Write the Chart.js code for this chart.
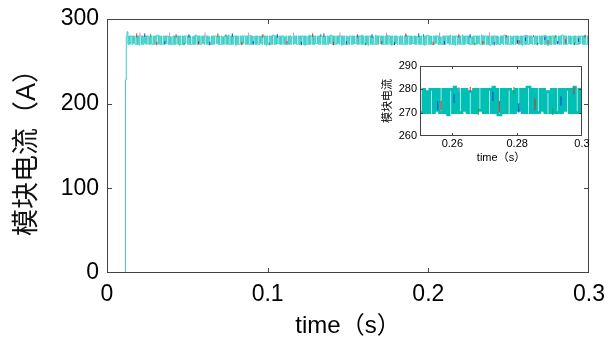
<!DOCTYPE html>
<html>
<head>
<meta charset="utf-8">
<script src="https://cdn.jsdelivr.net/npm/chart.js@4/dist/chart.umd.min.js"></script>
<style>
  body { margin: 0; background: #fff; }
  #wrap { position: relative; width: 609px; height: 342px; }
  #inset { position: absolute; left: 370px; top: 55px; }
</style>
</head>
<body>
<div id="wrap">
  <canvas id="main" width="609" height="342"></canvas>
  <canvas id="inset" width="230" height="120"></canvas>
</div>
<script>
// sample step of the simulated current (s)
const dt = 0.0005;

// module current (A), one value per sample
const current = [
  0,0,0,0,0,0,0,0,0,0,0,0,0,0,0,0,0,0,0,0,0,0,0,228,280,285,
  270,280,270,280,280,270,280,271,280,270,270,280,270,280,269,280,280,270,280,270,
  280,271,280,270,280,280,270,279,270,280,270,270,280,270,280,270,281,281,270,280,
  270,280,270,270,280,270,280,271,280,280,270,280,270,279,270,270,280,270,280,270,
  280,280,270,280,269,280,270,270,280,270,280,271,280,280,270,280,270,280,270,270,
  279,270,280,270,281,281,270,280,270,280,270,270,280,271,280,270,280,280,270,280,
  270,279,270,270,280,270,280,270,280,280,271,280,270,280,270,270,280,270,279,270,
  280,280,270,280,270,281,270,270,280,270,280,270,280,280,269,280,270,280,270,270,
  280,270,280,271,280,280,270,280,270,280,270,270,281,270,280,270,279,279,270,280,
  270,280,270,270,280,271,280,270,280,280,270,280,269,280,270,270,280,270,280,270,
  281,281,270,280,270,280,271,271,280,270,280,270,280,280,270,279,270,280,270,270,
  280,270,280,270,279,279,270,280,271,280,270,270,280,270,280,270,280,280,270,280,
  269,280,270,270,280,270,281,270,280,280,270,280,270,280,271,271,280,270,280,270,
  280,280,270,279,270,280,270,270,280,270,280,271,281,281,270,280,270,280,270,270,
  280,271,280,270,280,280,269,280,270,280,270,270,280,270,279,270,280,280,270,280,
  270,280,271,271,280,270,280,270,280,280,270,281,270,280,270,270,280,270,280,269,
  280,280,270,280,270,279,270,270,281,270,280,270,280,280,271,280,270,280,270,270,
  280,270,281,270,280,280,270,280,269,280,270,270,280,271,280,270,279,279,270,280,
  270,280,270,270,280,270,281,270,280,280,270,280,270,280,271,271,280,270,280,270,
  279,279,270,280,270,280,270,270,280,269,280,270,281,281,270,280,270,280,270,270,
  280,270,280,271,280,280,270,280,270,279,270,270,280,270,280,270,280,280,271,280,
  270,281,270,270,280,270,280,269,280,280,270,280,270,280,270,270,281,270,280,270,
  280,280,271,280,270,280,270,270,279,270,280,270,280,280,270,280,271,280,270,270,
  281,270,280,270,280,280,270,280,270,280,269,269,280,270,280,271,280,280,270,280,
  270,279,270,270,280,271,280,270,281,281,270,280,270,280,270,270,280,270,279,270,
  280,280,270,280,271,280,270,270,280,270,280,269,280,280,270,281,270,280,270,270,
  280,271,280,270,279,279,270,280,270,280,271,271,280,270,280,270,280,280,270,281,
  270,280,269,269,280,270,280,270,280,280,270,279,270,280,271,271,280,270,280,270,
  281,281,270,280,270,280,270,270,280,271,280,270,279,279,270,280,270,280,270,270,
  280,270,280,271,280,280,270,280,270,281,270,270,280,270,280,270,279,279,270,280
];

// short excursions of the other phases: [time, low, high]
const redSpikes = [
  [0.0185,278,283],[0.031,269,273],[0.043,278,282],[0.057,270,274],[0.069,279,283],
  [0.084,269,273],[0.097,278,282],[0.112,270,274],[0.128,279,283],[0.141,269,273],
  [0.156,278,282],[0.171,270,274],[0.186,279,283],[0.203,269,273],[0.219,278,282],
  [0.234,270,274],[0.2485,278,281],[0.2565,271,275],[0.2655,279,281],[0.2745,270,275],
  [0.2855,271,276],[0.2975,278,281]
];
const blueSpikes = [
  [0.0235,279,283],[0.036,270,274],[0.051,278,282],[0.064,269,273],[0.078,279,283],
  [0.091,270,274],[0.106,278,282],[0.121,269,273],[0.135,279,283],[0.149,270,274],
  [0.165,278,282],[0.179,269,273],[0.194,279,283],[0.21,270,274],[0.226,278,282],
  [0.241,269,273],[0.2555,271,275],[0.2605,274,278],[0.2725,275,279],[0.2805,270,274],
  [0.2935,273,277]
];
const greenSpikes = [
  [0.027,279,282],[0.048,269,272],[0.074,279,282],[0.101,269,272],[0.133,279,282],
  [0.161,269,272],[0.197,279,282],[0.229,269,272],[0.268,269,272],[0.279,278,281],
  [0.291,269,272]
];
const pinkSpikes = [
  [0.0205,280,284],[0.039,280,284],[0.061,280,284],[0.088,280,284],[0.116,280,284],
  [0.145,280,284],[0.174,280,284],[0.207,280,284],[0.238,280,284],[0.262,279,281]
];

// axis ticks
const xTicksMain = [0, 0.1, 0.2, 0.3];
const yTicksMain = [0, 100, 200, 300];
const xTicksInset = [0.26, 0.28, 0.3];
const yTicksInset = [260, 270, 280, 290];

const FONT = "'Liberation Sans', 'Noto Sans CJK SC', Arial, sans-serif";

function spikeData(list) {
  return list.flatMap(([t, lo, hi]) => [{x: t, y: lo}, {x: t, y: hi}, {x: t, y: null}]);
}

function makeDatasets(w) {
  return [
    {data: spikeData(redSpikes), borderColor: '#e02828', borderWidth: 1},
    {data: spikeData(blueSpikes), borderColor: '#1a3ee0', borderWidth: 1},
    {data: spikeData(greenSpikes), borderColor: '#2a9a3a', borderWidth: 1},
    {data: spikeData(pinkSpikes), borderColor: '#e87ad8', borderWidth: 1},
    {
      data: current.map((v, i) => ({x: i * dt, y: v})),
      borderColor: w > 1 ? '#00c0b6' : '#3ccdc6',
      borderWidth: w,
      stepped: true
    }
  ];
}

// box round the plot with MATLAB-like inward ticks
const frame = {
  id: 'frame',
  afterDraw(chart, args, opts) {
    const {ctx, chartArea: a, scales: {x, y}} = chart;
    ctx.save();
    ctx.strokeStyle = '#444';
    ctx.lineWidth = 1;
    ctx.strokeRect(Math.round(a.left) + 0.5, Math.round(a.top) + 0.5,
      Math.round(a.width) - 1, Math.round(a.height) - 1);
    ctx.beginPath();
    x.ticks.forEach(t => {
      const p = Math.round(x.getPixelForValue(t.value)) + 0.5;
      if (p < a.left + 2 || p > a.right - 2) return;
      ctx.moveTo(p, a.bottom); ctx.lineTo(p, a.bottom - opts.len);
      ctx.moveTo(p, a.top); ctx.lineTo(p, a.top + opts.len);
    });
    y.ticks.forEach(t => {
      const p = Math.round(y.getPixelForValue(t.value)) + 0.5;
      if (p < a.top + 2 || p > a.bottom - 2) return;
      ctx.moveTo(a.left, p); ctx.lineTo(a.left + opts.len, p);
      ctx.moveTo(a.right, p); ctx.lineTo(a.right - opts.len, p);
    });
    ctx.stroke();
    ctx.restore();
  }
};

function fitX(h) {
  return s => { s.height = h; s.paddingLeft = 0; s.paddingRight = 0; };
}
function fitY(w) {
  return s => { s.width = w; s.paddingTop = 0; s.paddingBottom = 0; };
}

new Chart(document.getElementById('main'), {
  type: 'line',
  data: {datasets: makeDatasets(1)},
  options: {
    responsive: false,
    animation: false,
    layout: {padding: {top: 19, right: 20, left: 0, bottom: 0}},
    elements: {point: {radius: 0}},
    plugins: {legend: {display: false}, tooltip: {enabled: false}, frame: {len: 5}},
    scales: {
      x: {
        type: 'linear', min: 0, max: 0.3,
        afterBuildTicks: s => { s.ticks = xTicksMain.map(v => ({value: v})); },
        afterFit: fitX(69),
        grid: {display: false, drawTicks: false}, border: {display: false},
        ticks: {padding: 8, color: '#000', maxRotation: 0, autoSkip: false,
          font: {family: FONT, size: 23}, callback: v => String(v)},
        title: {display: true, text: 'time（s）', color: '#000',
          font: {family: FONT, size: 24, lineHeight: 1}, padding: {top: 0, bottom: 4}}
      },
      y: {
        min: 0, max: 300,
        afterBuildTicks: s => { s.ticks = yTicksMain.map(v => ({value: v})); },
        afterFit: fitY(107),
        grid: {display: false, drawTicks: false}, border: {display: false},
        ticks: {padding: 8, color: '#000', font: {family: FONT, size: 23}},
        title: {display: true, text: '模块电流（A）', color: '#111',
          font: {family: FONT, size: 27, lineHeight: 1}, padding: {top: 14, bottom: 0}}
      }
    }
  },
  plugins: [frame]
});

new Chart(document.getElementById('inset'), {
  type: 'line',
  data: {datasets: makeDatasets(2.6)},
  options: {
    responsive: false,
    animation: false,
    layout: {padding: {top: 11, right: 18, left: 0, bottom: 0}},
    elements: {point: {radius: 0}},
    plugins: {legend: {display: false}, tooltip: {enabled: false}, frame: {len: 3}},
    scales: {
      x: {
        type: 'linear', min: 0.25, max: 0.3,
        afterBuildTicks: s => { s.ticks = xTicksInset.map(v => ({value: v})); },
        afterFit: fitX(39),
        grid: {display: false, drawTicks: false}, border: {display: false},
        ticks: {padding: 1, color: '#000', maxRotation: 0, autoSkip: false,
          font: {family: FONT, size: 11}, callback: v => String(v)},
        title: {display: true, text: 'time（s）', color: '#000',
          font: {family: FONT, size: 11, lineHeight: 1}, padding: {top: 0, bottom: 12}}
      },
      y: {
        min: 260, max: 290,
        afterBuildTicks: s => { s.ticks = yTicksInset.map(v => ({value: v})); },
        afterFit: fitY(50),
        grid: {display: false, drawTicks: false}, border: {display: false},
        ticks: {padding: 3, color: '#000', font: {family: FONT, size: 11}},
        title: {display: true, text: '模块电流', color: '#000',
          font: {family: FONT, size: 11, lineHeight: 1}, padding: {top: 12, bottom: 0}}
      }
    }
  },
  plugins: [frame]
});
</script>
</body>
</html>
